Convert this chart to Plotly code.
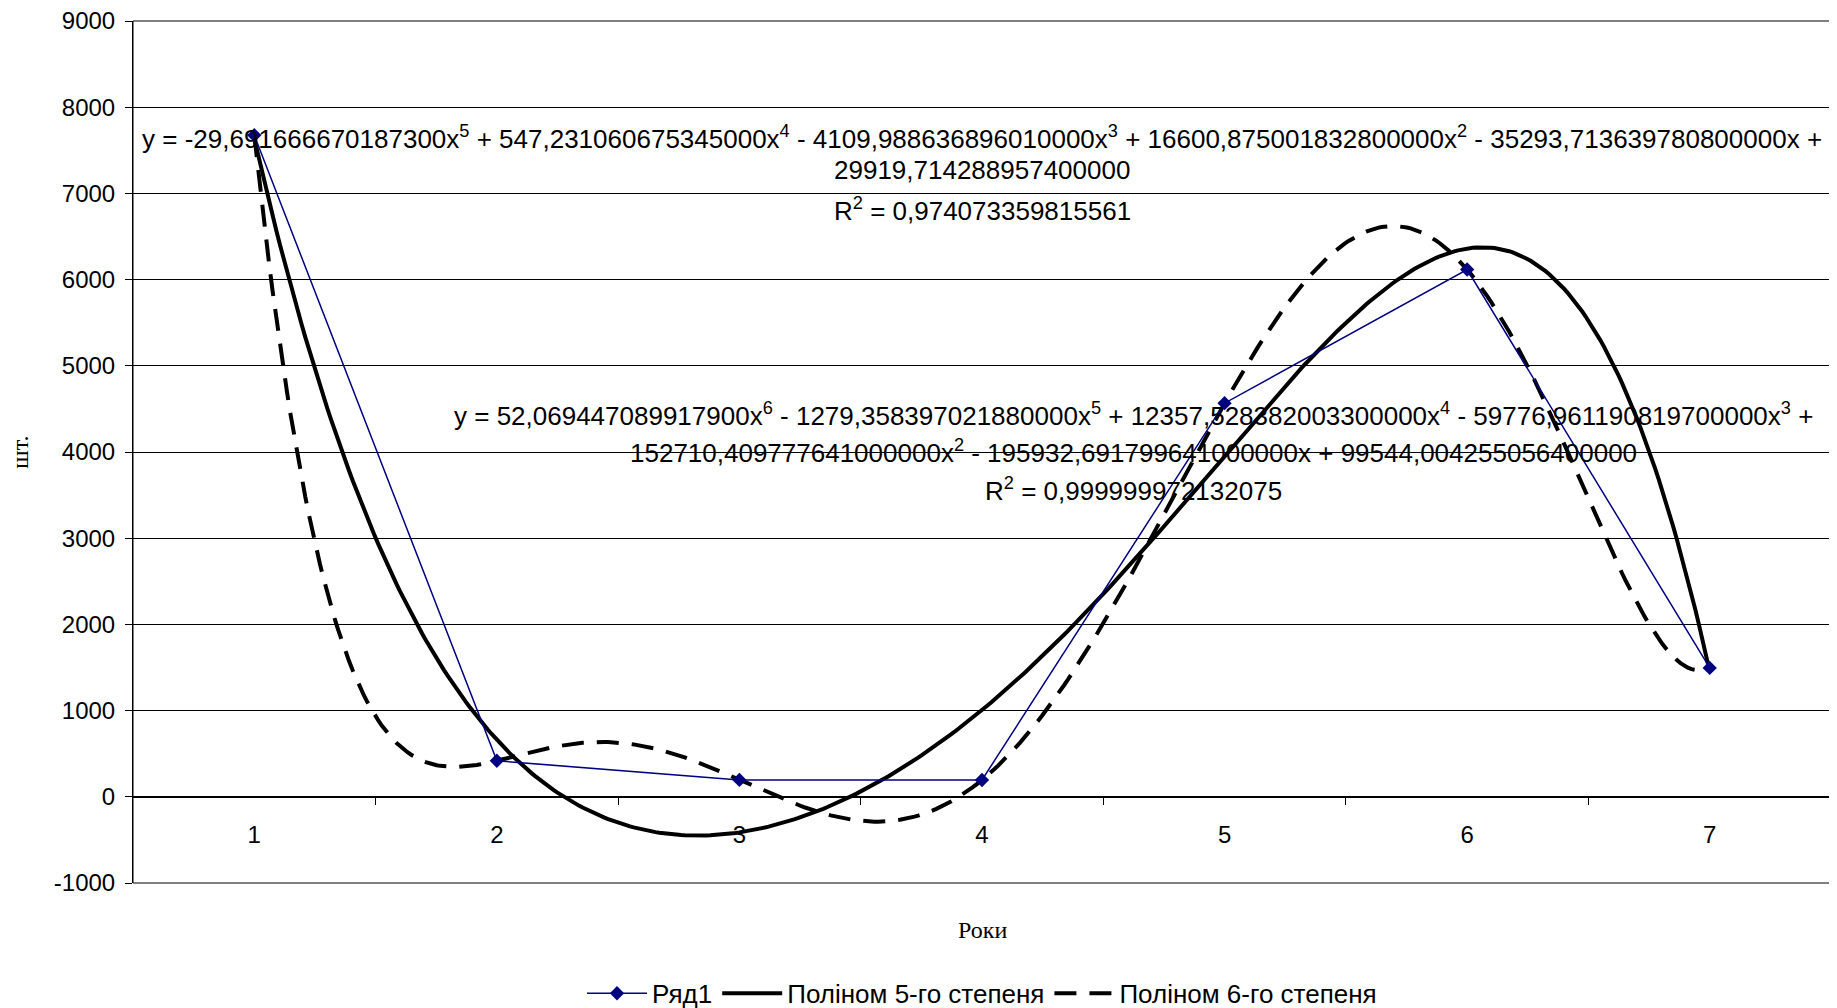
import numpy as np
import plotly.graph_objects as go

# ---- data ----
years = [1, 2, 3, 4, 5, 6, 7]
values = [7675, 418, 196, 195, 4566, 6117, 1495]
category_labels = ["1", "2", "3", "4", "5", "6", "7"]

# trendline coefficients as printed on the chart (highest power first)
poly5_coef = [-29.6916666701873, 547.231060675345, -4109.98863689601,
              16600.8750018328, -35293.7136397808, 29919.7142889574]
poly6_coef = [52.0694470899179, -1279.35839702188, 12357.5283820033,
              -59776.9611908197, 152710.409777641, -195932.691799641,
              99544.0042550564]

y_ticks = [-1000, 0, 1000, 2000, 3000, 4000, 5000, 6000, 7000, 8000, 9000]
y_tick_text = ["-1000", "0", "1000", "2000", "3000", "4000", "5000", "6000",
               "7000", "8000", "9000"]

eq5_lines = [
    "y = -29,691666670187300x<sup>5</sup> + 547,231060675345000x<sup>4</sup> - 4109,988636896010000x<sup>3</sup> + 16600,875001832800000x<sup>2</sup> - 35293,713639780800000x +",
    "29919,714288957400000",
    "R<sup>2</sup> = 0,974073359815561",
]
eq6_lines = [
    "y = 52,069447089917900x<sup>6</sup> - 1279,358397021880000x<sup>5</sup> + 12357,528382003300000x<sup>4</sup> - 59776,961190819700000x<sup>3</sup> +",
    "152710,409777641000000x<sup>2</sup> - 195932,691799641000000x + 99544,004255056400000",
    "R<sup>2</sup> = 0,999999972132075",
]

SANS = "Liberation Sans, Arial, sans-serif"
SERIF = "Liberation Serif, Times New Roman, serif"

xf = np.linspace(years[0], years[-1], 400)
y5 = np.polyval(poly5_coef, xf)
y6 = np.polyval(poly6_coef, xf)

fig = go.Figure()
fig.add_trace(go.Scatter(
    x=xf, y=y5, mode="lines", name="Поліном 5-го степеня",
    line=dict(color="black", width=4), legendrank=2))
fig.add_trace(go.Scatter(
    x=xf, y=y6, mode="lines", name="Поліном 6-го степеня",
    line=dict(color="black", width=4, dash="22px,13px"), legendrank=3))
fig.add_trace(go.Scatter(
    x=years, y=values, mode="lines+markers", name="Ряд1",
    line=dict(color="#000080", width=1.5),
    marker=dict(symbol="diamond", size=11, color="#000080"), legendrank=1))
# helper trace for the boundary tick axis
fig.add_trace(go.Scatter(x=[None], y=[None], xaxis="x2", showlegend=False,
                         hoverinfo="skip"))

annotations = []
for txt, yv in zip(eq5_lines, [7650, 7270, 6810]):
    annotations.append(dict(text=txt, xref="paper", yref="y", x=0.5, y=yv,
                            xanchor="center", yanchor="middle", showarrow=False,
                            font=dict(family=SANS, size=26, color="black")))
for txt, yv in zip(eq6_lines, [4440, 4010, 3570]):
    annotations.append(dict(text=txt, xref="paper", yref="y", x=0.589, y=yv,
                            xanchor="center", yanchor="middle", showarrow=False,
                            font=dict(family=SANS, size=26, color="black")))
annotations.append(dict(text="шт.", xref="paper", yref="paper", x=-0.0667, y=0.5,
                        xanchor="center", yanchor="middle", textangle=-90,
                        showarrow=False, font=dict(family=SERIF, size=24, color="black")))
annotations.append(dict(text="Роки", xref="paper", yref="paper", x=0.5, y=-0.0545,
                        xanchor="center", yanchor="middle",
                        showarrow=False, font=dict(family=SERIF, size=24, color="black")))

fig.update_layout(
    width=1829, height=1000,
    margin=dict(l=125, r=6, t=13, b=125, autoexpand=False),
    paper_bgcolor="white", plot_bgcolor="white",
    showlegend=True,
    legend=dict(orientation="h", x=0.5, xanchor="center", y=-0.128, yanchor="middle",
                font=dict(family=SANS, size=26, color="black"),
                bgcolor="rgba(0,0,0,0)", itemwidth=60, traceorder="normal"),
    xaxis=dict(range=[0.5, 7.5], tickmode="array", tickvals=years,
               ticktext=category_labels, ticks="", showgrid=False, zeroline=False,
               showline=True, linecolor="black", linewidth=1,
               anchor="free", position=0.1, ticklabelstandoff=16,
               tickfont=dict(family=SANS, size=24, color="black")),
    xaxis2=dict(range=[0.5, 7.5], overlaying="x", tickmode="array",
                tickvals=[1.5, 2.5, 3.5, 4.5, 5.5, 6.5], ticks="outside", ticklen=7,
                tickcolor="black", showticklabels=False, showgrid=False,
                zeroline=False, showline=False, anchor="free", position=0.1),
    yaxis=dict(range=[-1000, 9000], tickmode="array", tickvals=y_ticks,
               ticktext=y_tick_text, ticklabeloverflow="allow",
               ticks="outside", ticklen=7, tickcolor="black",
               showgrid=True, gridcolor="black", gridwidth=1, zeroline=False,
               showline=True, linecolor="black", linewidth=1,
               ticklabelstandoff=5,
               tickfont=dict(family=SANS, size=24, color="black")),
    annotations=annotations,
    shapes=[dict(type="rect", xref="paper", yref="paper", x0=0, x1=1, y0=0, y1=1,
                 line=dict(color="black", width=1), layer="below")],
)

fig.write_html("out.html")
